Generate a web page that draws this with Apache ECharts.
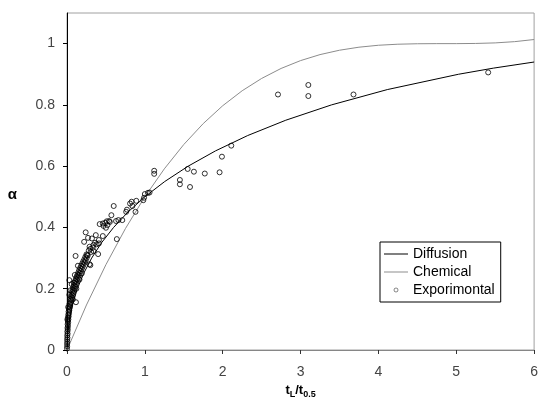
<!DOCTYPE html>
<html>
<head>
<meta charset="utf-8">
<script src="https://cdn.jsdelivr.net/npm/echarts@6/dist/echarts.min.js"></script>
<style>
html,body{margin:0;padding:0;background:#fff;}
#chart{width:541px;height:408px;}
</style>
</head>
<body>
<div id="chart"></div>
<script>
// Diffusion model curve (t_L/t_0.5, alpha)
const diffusionX = [0, 0.0012, 0.0077, 0.0317, 0.0731, 0.1333, 0.2139, 0.3167, 0.4432, 0.5981, 0.7818, 1.0, 1.2557, 1.5560, 1.9080, 2.3209, 2.8101, 3.3964, 4.1142, 5.0278, 5.4759, 6.0];
const diffusionY = [0, 0.02, 0.05, 0.10, 0.15, 0.20, 0.25, 0.30, 0.35, 0.40, 0.45, 0.50, 0.55, 0.60, 0.65, 0.70, 0.75, 0.80, 0.85, 0.90, 0.92, 0.94];
// Chemical model curve
const chemicalX = [0, 0.25, 0.5, 0.75, 1.0, 1.25, 1.5, 1.75, 2.0, 2.25, 2.5, 2.75, 3.0, 3.25, 3.5, 3.75, 4.0, 4.25, 4.5, 4.75, 5.0, 5.25, 5.5, 5.75, 6.0];
const chemicalY = [0, 0.1469, 0.2786, 0.3961, 0.5, 0.5913, 0.6707, 0.7391, 0.7973, 0.8462, 0.8864, 0.9190, 0.9446, 0.9642, 0.9785, 0.9884, 0.9947, 0.9981, 0.9996, 1.0000, 1.0000, 1.0006, 1.0024, 1.0065, 1.0134];
// Experimental points
const expX = [5.41,3.68,3.10,3.10,2.71,2.11,1.99,1.96,1.77,1.63,1.55,1.58,1.45,1.45,1.12,1.12,1.06,1.00,0.99,0.98,1.04,0.89,0.83,0.81,0.84,0.76,0.88,0.77,0.60,0.71,0.66,0.64,0.57,
  0.42,0.49,0.52,0.54,0.50,0.46,0.47,0.55,0.51,0.63,
  0.24,0.27,0.32,0.37,0.41,0.46,0.29,0.34,0.38,0.41,0.22,0.30,0.33,0.34,0.36,0.31,0.28,0.26,0.40,0.30,0.29,
  0.11,0.115,0.03,
  0.000,0.002,0.001,0.004,0.002,0.006,0.003,0.008,0.004,0.010,0.006,0.012,0.008,0.015,0.010,0.018,0.012,0.022,0.016,0.026,0.020,0.030,0.024,0.036,0.028,0.042,0.033,0.048,0.038,0.055,0.044,0.062,0.050,0.070,0.056,0.078,0.064,0.086,0.072,0.094,0.080,0.103,0.088,0.112,0.097,0.121,0.106,0.131,0.115,0.141,0.125,0.152,0.136,0.163,0.147,0.175,0.158,0.187,0.170,0.199,0.182,0.212,0.195,0.225,0.208,0.238,0.222,0.252,0.236,0.266,0.250,
  0.060,0.100,0.045,0.140,0.015,0.005,0.030,0.090,0.160,0.190,0.120,0.075];
const expY = [0.906,0.834,0.865,0.829,0.834,0.667,0.631,0.580,0.576,0.582,0.591,0.532,0.555,0.541,0.575,0.585,0.514,0.509,0.497,0.489,0.513,0.487,0.484,0.478,0.470,0.451,0.451,0.458,0.470,0.424,0.424,0.362,0.440,
  0.411,0.415,0.408,0.421,0.399,0.413,0.405,0.418,0.420,0.421,
  0.384,0.366,0.364,0.375,0.359,0.372,0.337,0.343,0.345,0.348,0.353,0.330,0.334,0.323,0.350,0.320,0.325,0.310,0.313,0.277,0.280,
  0.307,0.156,0.228,
  0.005,0.012,0.020,0.027,0.034,0.040,0.047,0.053,0.060,0.066,0.072,0.078,0.084,0.090,0.095,0.100,0.106,0.110,0.115,0.120,0.125,0.130,0.134,0.139,0.143,0.147,0.151,0.155,0.160,0.163,0.167,0.171,0.175,0.178,0.182,0.186,0.190,0.193,0.197,0.200,0.205,0.208,0.212,0.215,0.219,0.222,0.226,0.229,0.233,0.236,0.240,0.243,0.247,0.250,0.254,0.257,0.261,0.264,0.268,0.271,0.275,0.278,0.282,0.285,0.289,0.292,0.296,0.300,0.304,0.308,0.312,
  0.215,0.245,0.195,0.275,0.140,0.100,0.180,0.220,0.230,0.250,0.200,0.165];
const xTicks = [0, 1, 2, 3, 4, 5, 6];
const yTicks = [0, 0.2, 0.4, 0.6, 0.8, 1];

const zip = (a, b) => a.map((v, i) => [v, b[i]]);
const FONT = '"Liberation Sans", Arial, sans-serif';
const LINE_ICON = 'path://M0,0 H24 V1 H0 Z';

const chart = echarts.init(document.getElementById('chart'));
chart.setOption({
  animation: false,
  backgroundColor: '#fff',
  grid: { left: 67, right: 5, top: 13, bottom: 58, show: true, borderColor: '#a0a0a0', borderWidth: 1 },
  xAxis: {
    type: 'value', min: 0, max: 6, interval: 1,
    name: '{b|t}{s|L}{b|/t}{s|0.5}',
    nameLocation: 'middle', nameGap: 30,
    nameTextStyle: {
      rich: {
        b: { fontFamily: FONT, fontWeight: 'bold', fontSize: 13, color: '#000' },
        s: { fontFamily: FONT, fontWeight: 'bold', fontSize: 9, color: '#000', verticalAlign: 'bottom', padding: [8, 0, 0, 0] }
      }
    },
    axisLine: { lineStyle: { color: '#868686', width: 1 } },
    axisTick: { show: true, length: 4, lineStyle: { color: '#333' }, customValues: xTicks },
    axisLabel: { fontFamily: FONT, fontSize: 14, color: '#444', margin: 15, customValues: xTicks },
    splitLine: { show: false }
  },
  yAxis: {
    type: 'value', min: 0, max: 1.1, interval: 0.2,
    name: 'α', nameLocation: 'middle', nameGap: 50, nameRotate: 0,
    nameTextStyle: { fontFamily: FONT, fontSize: 15, fontWeight: 'bold', color: '#000', verticalAlign: 'top', padding: [6, 0, 0, 0] },
    axisLine: { lineStyle: { color: '#000', width: 1 } },
    axisTick: { show: true, length: 4, lineStyle: { color: '#000' }, customValues: yTicks },
    axisLabel: { fontFamily: FONT, fontSize: 14, color: '#444', margin: 12, customValues: yTicks },
    splitLine: { show: false }
  },
  legend: {
    orient: 'vertical', left: 380, top: 242,
    backgroundColor: '#fff', borderColor: '#000', borderWidth: 1, borderRadius: 0,
    padding: [5, 6, 5, 4], itemGap: 4, itemWidth: 24, itemHeight: 4,
    textStyle: { fontFamily: FONT, fontSize: 14, color: '#000' },
    data: [
      { name: 'Diffusion', icon: LINE_ICON, itemStyle: { color: '#000', borderWidth: 0 } },
      { name: 'Chemical', icon: LINE_ICON, itemStyle: { color: '#8c8c8c', borderWidth: 0 } },
      { name: 'Exporimontal', icon: 'circle', itemStyle: { color: 'rgba(255,255,255,0)', borderColor: '#444', borderWidth: 0.8 } }
    ]
  },
  series: [
    { name: 'Diffusion', type: 'line', data: zip(diffusionX, diffusionY), showSymbol: false, symbol: 'none',
      lineStyle: { color: '#000', width: 1 }, itemStyle: { color: '#000' }, z: 2 },
    { name: 'Chemical', type: 'line', data: zip(chemicalX, chemicalY), showSymbol: false, symbol: 'none',
      lineStyle: { color: '#8c8c8c', width: 1 }, itemStyle: { color: '#8c8c8c' }, z: 2 },
    { name: 'Exporimontal', type: 'scatter', data: zip(expX, expY), symbol: 'circle', symbolSize: 5,
      itemStyle: { color: 'rgba(255,255,255,0)', borderColor: '#000', borderWidth: 1 }, z: 3 }
  ]
});
</script>
</body>
</html>
